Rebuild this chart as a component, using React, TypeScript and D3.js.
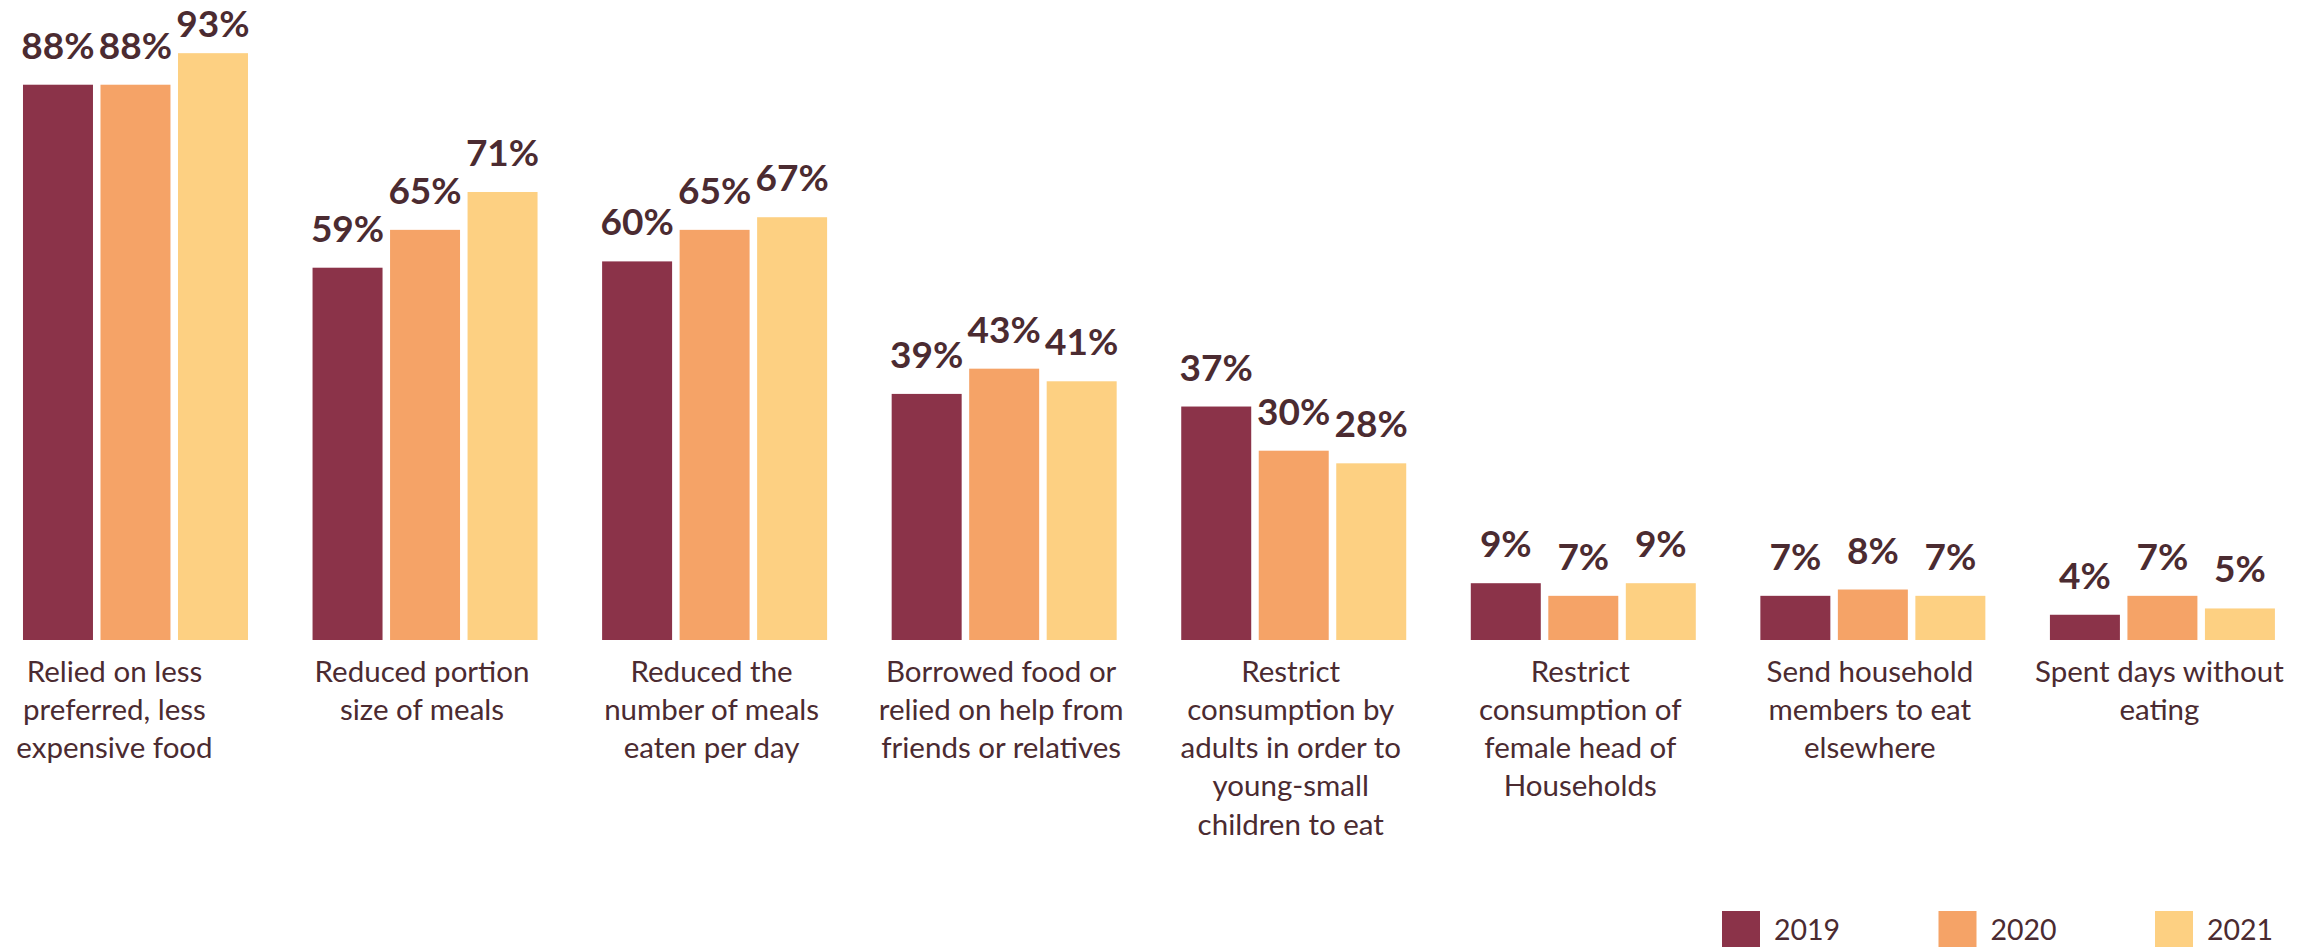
import React from "react";
import * as d3 from "d3";

const categories = [
  "Relied on less preferred, less expensive food",
  "Reduced portion size of meals",
  "Reduced the number of meals eaten per day",
  "Borrowed food or relied on help from friends or relatives",
  "Restrict consumption by adults in order to young-small children to eat",
  "Restrict consumption of female head of Households",
  "Send household members to eat elsewhere",
  "Spent days without eating",
];

const categoryLines = [
  ["Relied on less", "preferred, less", "expensive food"],
  ["Reduced portion", "size of meals"],
  ["Reduced the", "number of meals", "eaten per day"],
  ["Borrowed food or", "relied on help from", "friends or relatives"],
  ["Restrict", "consumption by", "adults in order to", "young-small", "children to eat"],
  ["Restrict", "consumption of", "female head of", "Households"],
  ["Send household", "members to eat", "elsewhere"],
  ["Spent days without", "eating"],
];

const seriesNames = ["2019", "2020", "2021"];
const values2019 = [88, 59, 60, 39, 37, 9, 7, 4];
const values2020 = [88, 65, 65, 43, 30, 7, 8, 7];
const values2021 = [93, 71, 67, 41, 28, 9, 7, 5];
const seriesValues = [values2019, values2020, values2021];

const COLORS = ["#8B3349", "#F5A367", "#FDD082"];
const TEXT = "#4B2B31";
const FONT = "Lato, 'Open Sans', sans-serif";

const W = 2315;
const H = 947;

export default function App() {
  const x0 = d3
    .scaleBand<string>()
    .domain(categories)
    .range([-9.3, 2307.2])
    .paddingInner(0.223)
    .paddingOuter(0.1115);
  const x1 = d3
    .scaleBand<string>()
    .domain(seriesNames)
    .range([0, x0.bandwidth()])
    .paddingInner(0.097);
  const y = d3.scaleLinear().domain([0, 100]).range([640, 9]);

  const legendX = d3.scalePoint<string>().domain(seriesNames).range([1722, 2155]);

  return (
    <svg
      width={W}
      height={H}
      style={{ position: "absolute", left: 0, top: 0, background: "#fff" }}
      fontFamily={FONT}
    >
      {categories.map((cat, i) => {
        const gx = x0(cat) as number;
        const cx = gx + x0.bandwidth() / 2 - (i === 0 ? 21 : 3);
        return (
          <g key={cat}>
            {seriesNames.map((s, j) => {
              const v = seriesValues[j][i];
              const bx = gx + (x1(s) as number);
              return (
                <g key={s}>
                  <rect
                    x={bx}
                    y={y(v)}
                    width={x1.bandwidth()}
                    height={y(0) - y(v)}
                    fill={COLORS[j]}
                  />
                  <text
                    x={bx + x1.bandwidth() / 2}
                    y={Math.max(y(v) - 26, 37)}
                    textAnchor="middle"
                    fontWeight={700}
                    fontSize={37}
                    fill={TEXT}
                  >
                    {v}%
                  </text>
                </g>
              );
            })}
            <text textAnchor="middle" fontSize={29.5} fill={TEXT}>
              {categoryLines[i].map((ln, k) => (
                <tspan key={k} x={cx} y={681.5 + k * 38.3}>
                  {ln}
                </tspan>
              ))}
            </text>
          </g>
        );
      })}
      {seriesNames.map((s, j) => {
        const lx = legendX(s) as number;
        return (
          <g key={s}>
            <rect x={lx} y={911} width={38} height={38} fill={COLORS[j]} />
            <text x={lx + 52} y={940} fontSize={28.5} fill={TEXT}>
              {s}
            </text>
          </g>
        );
      })}
    </svg>
  );
}
